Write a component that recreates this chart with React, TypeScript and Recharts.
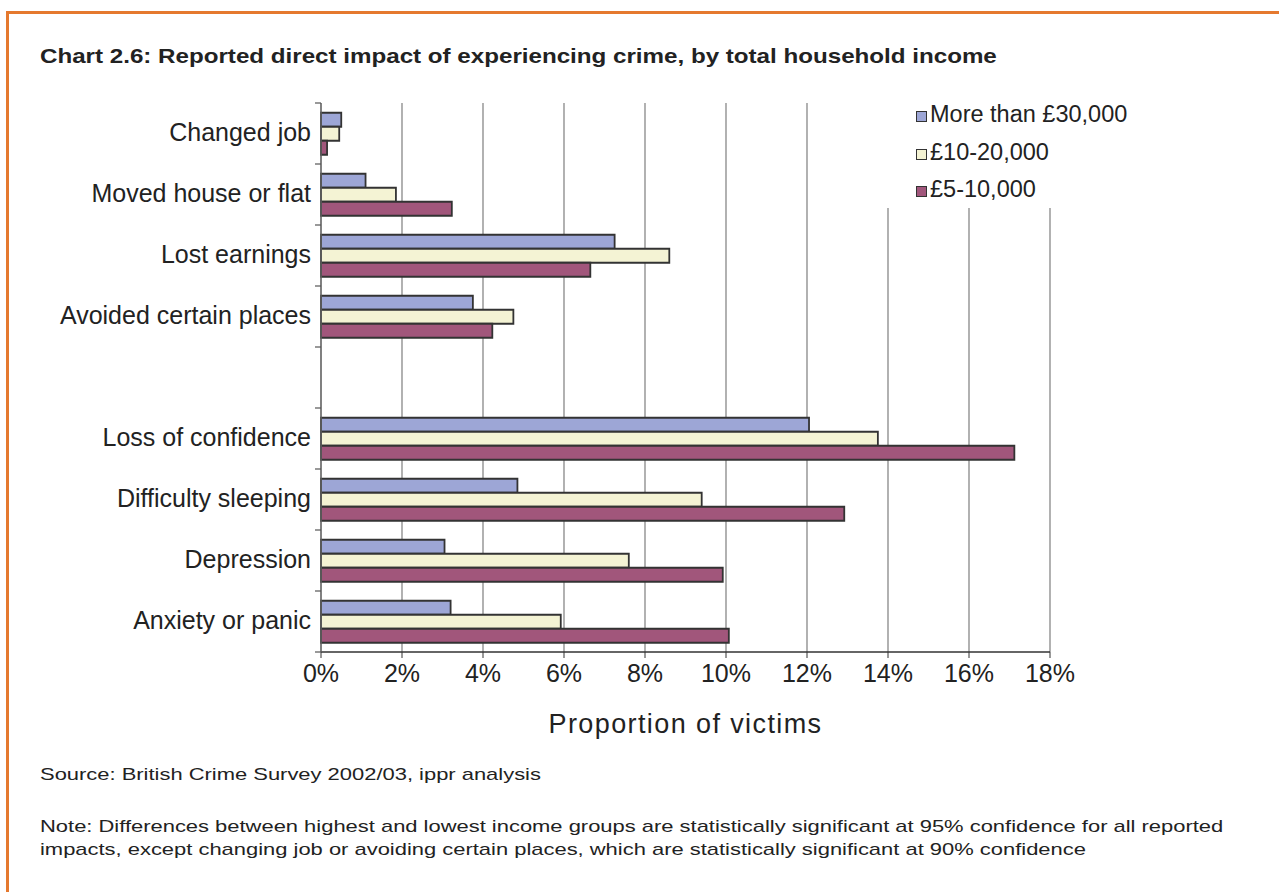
import React from "react";
import { BarChart, Bar, XAxis, YAxis, CartesianGrid, Legend } from "recharts";

const categories = [
  "Changed job",
  "Moved house or flat",
  "Lost earnings",
  "Avoided certain places",
  "",
  "Loss of confidence",
  "Difficulty sleeping",
  "Depression",
  "Anxiety or panic",
];
const over30k = [0.5, 1.1, 7.25, 3.75, null, 12.05, 4.85, 3.05, 3.2];
const mid10to20k = [0.45, 1.85, 8.6, 4.75, null, 13.75, 9.4, 7.6, 5.92];
const low5to10k = [0.15, 3.23, 6.65, 4.23, null, 17.12, 12.92, 9.92, 10.07];
const xTicks = [0, 2, 4, 6, 8, 10, 12, 14, 16, 18];

const seriesNames = ["More than £30,000", "£10-20,000", "£5-10,000"];
const seriesColors = ["#9DA6D6", "#F4F3D4", "#A1567B"];

const data = categories.map((name, i) => ({
  name,
  a: over30k[i],
  b: mid10to20k[i],
  c: low5to10k[i],
}));

const FONT = '"Liberation Sans", Arial, Helvetica, sans-serif';
const Y_AXIS_W = 321;

const YTick = (props: any) => {
  const { y, payload, index, visibleTicksCount } = props;
  const half = payload && payload.offset != null ? payload.offset : 0;
  const ax = Y_AXIS_W;
  return (
    <g>
      <text
        x={ax - 10}
        y={y}
        dy={7}
        textAnchor="end"
        fontSize={25}
        fill="#222"
        fontFamily={FONT}
      >
        {payload.value}
      </text>
      <line x1={ax - 6} x2={ax} y1={y - half} y2={y - half} stroke="#555" strokeWidth={1.2} />
      {index === visibleTicksCount - 1 ? (
        <line x1={ax - 6} x2={ax} y1={y + half} y2={y + half} stroke="#555" strokeWidth={1.2} />
      ) : null}
    </g>
  );
};

const LegendContent = () => (
  <div
    style={{
      background: "#fff",
      width: 285,
      height: 113,
      paddingTop: 1,
      paddingLeft: 36,
      boxSizing: "border-box",
      fontFamily: FONT,
      textAlign: "left",
    }}
  >
    {seriesNames.map((n, i) => (
      <div
        key={n}
        style={{
          display: "flex",
          alignItems: "center",
          height: 37.5,
          fontSize: 23.5,
          color: "#222",
        }}
      >
        <span
          style={{
            display: "inline-block",
            width: 9,
            height: 9,
            background: seriesColors[i],
            border: "1px solid #333",
            marginRight: 3,
            marginTop: 4,
          }}
        />
        <span>{n}</span>
      </div>
    ))}
  </div>
);

export default function App() {
  return (
    <div
      style={{
        position: "absolute",
        left: 0,
        top: 0,
        width: 1279,
        height: 892,
        background: "#fff",
        overflow: "hidden",
        fontFamily: FONT,
      }}
    >
      <div
        style={{
          position: "absolute",
          left: 6,
          top: 11,
          width: 1290,
          height: 900,
          borderTop: "3px solid #E5792F",
          borderLeft: "3px solid #E5792F",
        }}
      />
      <div
        style={{
          position: "absolute",
          left: 40,
          top: 44,
          fontSize: 21,
          fontWeight: 700,
          color: "#222",
          whiteSpace: "nowrap",
          transform: "scaleX(1.15)",
          transformOrigin: "0 0",
        }}
      >
        Chart 2.6: Reported direct impact of experiencing crime, by total household income
      </div>
      <div style={{ position: "absolute", left: 0, top: 0 }}>
        <BarChart
          width={1279}
          height={892}
          data={data}
          layout="vertical"
          margin={{ top: 103, right: 229, bottom: 150, left: 0 }}
          barCategoryGap="16%"
          barGap={0}
        >
          <CartesianGrid horizontal={false} stroke="#888" strokeWidth={1.3} />
          <XAxis
            type="number"
            domain={[0, 18]}
            ticks={xTicks}
            tickFormatter={(v: number) => `${v}%`}
            height={90}
            tickSize={6}
            tickMargin={6}
            stroke="#333"
            tick={{ fontSize: 25, fill: "#222", fontFamily: FONT }}
            axisLine={{ stroke: "#333", strokeWidth: 1.3 }}
            tickLine={{ stroke: "#333" }}
            label={{
              value: "Proportion of victims",
              position: "insideBottom",
              offset: 9,
              fontSize: 27,
              letterSpacing: 1.4,
              fill: "#222",
              fontFamily: FONT,
            }}
          />
          <YAxis
            type="category"
            dataKey="name"
            width={Y_AXIS_W}
            tickLine={false}
            axisLine={{ stroke: "#666", strokeWidth: 1.3 }}
            tick={<YTick />}
            interval={0}
          />
          <Legend
            verticalAlign="middle"
            align="center"
            layout="horizontal"
            wrapperStyle={{ position: "absolute", left: 880, top: 95, width: 285, height: 113 }}
            content={<LegendContent />}
          />
          <Bar dataKey="a" name={seriesNames[0]} fill={seriesColors[0]} stroke="#333" strokeWidth={1.8} isAnimationActive={false} />
          <Bar dataKey="b" name={seriesNames[1]} fill={seriesColors[1]} stroke="#333" strokeWidth={1.8} isAnimationActive={false} />
          <Bar dataKey="c" name={seriesNames[2]} fill={seriesColors[2]} stroke="#333" strokeWidth={1.8} isAnimationActive={false} />
        </BarChart>
      </div>
      <div
        style={{
          position: "absolute",
          left: 40,
          top: 765,
          fontSize: 17,
          color: "#222",
          whiteSpace: "nowrap",
          transform: "scaleX(1.29)",
          transformOrigin: "0 0",
        }}
      >
        Source: British Crime Survey 2002/03, ippr analysis
      </div>
      <div
        style={{
          position: "absolute",
          left: 40,
          top: 815,
          fontSize: 17,
          lineHeight: "23px",
          color: "#222",
          whiteSpace: "nowrap",
          transform: "scaleX(1.29)",
          transformOrigin: "0 0",
        }}
      >
        Note: Differences between highest and lowest income groups are statistically significant at 95% confidence for all reported
        <br />
        impacts, except changing job or avoiding certain places, which are statistically significant at 90% confidence
      </div>
    </div>
  );
}
